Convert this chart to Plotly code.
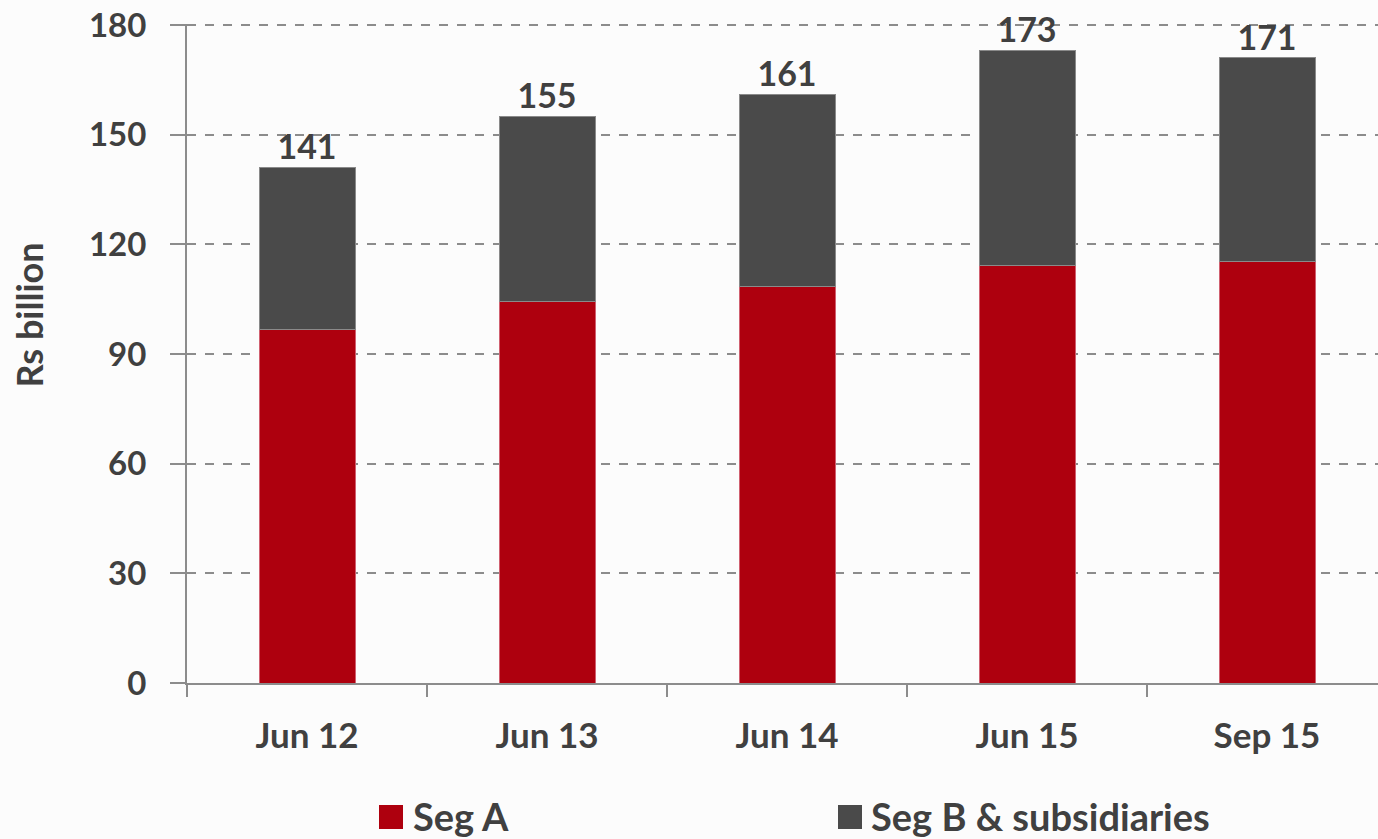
import plotly.graph_objects as go

categories = ["Jun 12", "Jun 13", "Jun 14", "Jun 15", "Sep 15"]
seg_a = [96.8, 104.5, 108.6, 114.1, 115.2]
totals = [141, 155, 161, 173, 171]
seg_b = [t - a for t, a in zip(totals, seg_a)]
yticks = [0, 30, 60, 90, 120, 150, 180]

RED = "#AE000E"
DARK = "#4A4A4A"
TXT = "#404040"
FONT = "Lato"

W, H = 1378, 839
L, T, B = 187, 24, 156
PW = W - L
PH = H - T - B


def px_x(p):
    return (p - L) / PW


def px_y(p):
    return (H - B - p) / PH


fig = go.Figure()
fig.add_trace(go.Bar(x=categories, y=seg_a, name="Seg A", marker=dict(color=RED, line=dict(color="#d06070", width=1)),
                     width=0.4, showlegend=False))
fig.add_trace(go.Bar(x=categories, y=seg_b, name="Seg B & subsidiaries", marker=dict(color=DARK, line=dict(color="#8a8a8a", width=1)),
                     width=0.4, showlegend=False))
fig.add_trace(go.Scatter(x=categories, y=totals, mode="text", text=[str(t) for t in totals],
                         textposition="top center", textfont=dict(size=34, color=TXT, family=FONT, weight="bold"),
                         showlegend=False, cliponaxis=False))

fig.update_layout(
    barmode="stack",
    width=W, height=H,
    margin=dict(l=L, r=0, t=T, b=B, autoexpand=False),
    paper_bgcolor="#fcfcfc", plot_bgcolor="rgba(0,0,0,0)",
    font=dict(family=FONT, color=TXT, size=33, weight="bold"),
    bargap=0.6,
)
fig.update_xaxes(
    range=[-0.5, 4.4625], showgrid=False, showline=True, linecolor="#8c8c8c", linewidth=2,
    ticks="outside", tickson="boundaries", ticklen=12, tickwidth=2, tickcolor="#8c8c8c",
    tickfont=dict(size=35, color=TXT, family=FONT, weight="bold"), ticklabelstandoff=21, automargin=False,
)
fig.update_yaxes(
    range=[0, 180.3], tickvals=yticks, showgrid=True, gridcolor="#8c8c8c", griddash="dash", gridwidth=1.5,
    showline=True, linecolor="#8c8c8c", linewidth=2, zeroline=False,
    ticks="outside", ticklen=15, tickwidth=2, tickcolor="#8c8c8c",
    tickfont=dict(size=33, color=TXT, family=FONT, weight="bold"), ticklabelstandoff=17, automargin=False,
)

fig.add_annotation(text="Rs billion", xref="paper", yref="paper", x=px_x(28.5), y=px_y(315), textangle=-90,
                   xanchor="center", yanchor="middle",
                   showarrow=False, font=dict(size=36, color=TXT, family=FONT, weight="bold"))

# legend (drawn manually to match large square swatches)
legend_items = [("Seg A", RED, 379, 411), ("Seg B & subsidiaries", DARK, 838, 869)]
for label, color, sx, tx in legend_items:
    fig.add_shape(type="rect", xref="paper", yref="paper", x0=px_x(sx), x1=px_x(sx + 24),
                  y0=px_y(829), y1=px_y(805), fillcolor=color, line=dict(width=0))
    fig.add_annotation(text=label, xref="paper", yref="paper", x=px_x(tx),
                       y=px_y(816), xanchor="left", yanchor="middle", showarrow=False,
                       font=dict(size=38, color=TXT, family=FONT, weight="bold"))

fig.write_html("out.html", config={"displayModeBar": False},
               post_script="document.body.style.margin='0';document.body.style.overflow='hidden';")
